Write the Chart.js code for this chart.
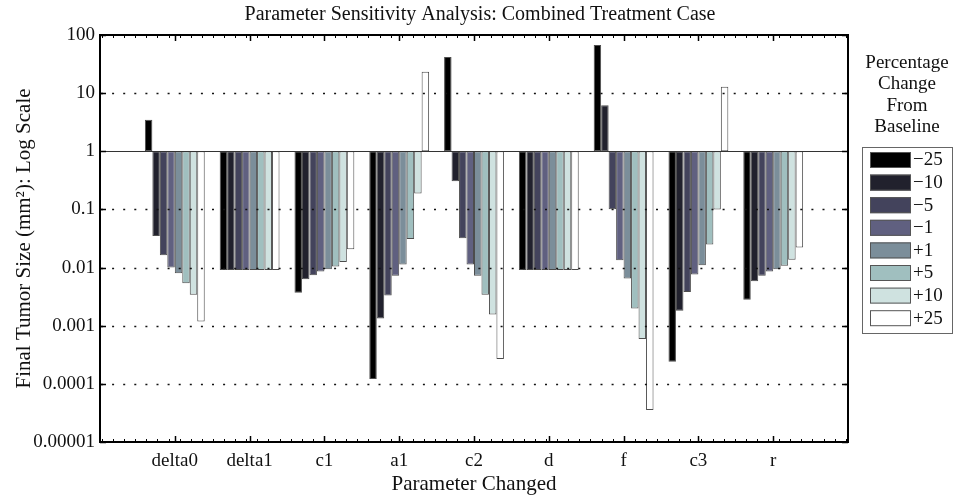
<!DOCTYPE html>
<html>
<head>
<meta charset="utf-8">
<script src="https://cdn.jsdelivr.net/npm/chart.js@4"></script>
<style>
  html, body { margin: 0; padding: 0; background: #fff; }
  #wrap { width: 955px; height: 497px; }
</style>
</head>
<body>
<div id="wrap"><canvas id="chart" width="955" height="497"></canvas></div>
<script>
// Parameters on the x axis (sit at x = 1..9, axis runs 0..10)
const parameters = ['delta0', 'delta1', 'c1', 'a1', 'c2', 'd', 'f', 'c3', 'r'];

// Final tumor size for each percentage change, one value per parameter
const minus25 = [3.5, 0.0091, 0.0037, 0.000121, 42, 0.0091, 67, 0.00024, 0.0028];
const minus10 = [0.035, 0.0091, 0.0063, 0.00133, 0.305, 0.0091, 6.2, 0.0018, 0.0058];
const minus5 = [0.0163, 0.0091, 0.0074, 0.0033, 0.032, 0.0091, 0.101, 0.0038, 0.0072];
const minus1 = [0.0100, 0.0091, 0.0086, 0.0072, 0.0113, 0.0091, 0.0134, 0.0076, 0.0086];
const plus1 = [0.0080, 0.0091, 0.0094, 0.0113, 0.0072, 0.0091, 0.0065, 0.011, 0.0094];
const plus5 = [0.0054, 0.0091, 0.0104, 0.031, 0.0034, 0.0091, 0.00198, 0.025, 0.0107];
const plus10 = [0.0034, 0.0091, 0.0125, 0.187, 0.00156, 0.0091, 0.00059, 0.10, 0.0136];
const plus25 = [0.00118, 0.0091, 0.0207, 23.4, 0.000267, 0.0091, 0.0000355, 12.9, 0.0221];

const seriesLabels = ['\u221225', '\u221210', '\u22125', '\u22121', '+1', '+5', '+10', '+25'];
const seriesValues = [minus25, minus10, minus5, minus1, plus1, plus5, plus10, plus25];
const seriesColors = ['#000000', '#21212d', '#43435c', '#606080', '#7b8e9a', '#a0bfbf', '#cfe2e0', '#ffffff'];

// bars grow from the baseline size of 1
const baseline = 1;

const yTicks = [100, 10, 1, 0.1, 0.01, 0.001, 0.0001, 0.00001];
const yTickLabels = ['100', '10', '1', '0.1', '0.01', '0.001', '0.0001', '0.00001'];

const chartTitle = 'Parameter Sensitivity Analysis: Combined Treatment Case';
const legendTitle = ['Percentage', 'Change', 'From', 'Baseline'];

const serif = '"Liberation Serif", "DejaVu Serif", serif';

const datasets = seriesValues.map((vals, i) => ({
  label: seriesLabels[i],
  data: vals.map((v, j) => ({ x: j + 1, y: [baseline, v] })),
  backgroundColor: seriesColors[i],
  borderColor: '#4d4d4d',
  borderWidth: 1,
  borderSkipped: false,
  categoryPercentage: 0.8,
  barPercentage: 1.0
}));

// MATLAB-ish frame: dotted grid on top, inward ticks, box, legend, title
const framePlugin = {
  id: 'frame',
  afterDatasetsDraw(chart) {
    const ctx = chart.ctx;
    const area = chart.chartArea;
    const xs = chart.scales.x;
    const ys = chart.scales.y;

    ctx.save();
    // dotted decade grid
    ctx.strokeStyle = '#111';
    ctx.lineWidth = 1.6;
    ctx.setLineDash([2, 9.1]);
    ctx.lineDashOffset = -1;
    yTicks.forEach(v => {
      if (v === 100 || v === 0.00001 || v === baseline) return;
      const y = Math.round(ys.getPixelForValue(v)) + 0.5;
      ctx.beginPath();
      ctx.moveTo(area.left, y);
      ctx.lineTo(area.right, y);
      ctx.stroke();
    });
    ctx.setLineDash([]);

    // solid baseline at 1
    const yb = Math.round(ys.getPixelForValue(baseline)) + 0.5;
    ctx.strokeStyle = '#333';
    ctx.lineWidth = 1;
    ctx.beginPath();
    ctx.moveTo(area.left, yb);
    ctx.lineTo(area.right, yb);
    ctx.stroke();

    // minor ticks on top/bottom, same rhythm as the dots
    ctx.strokeStyle = '#000';
    ctx.lineWidth = 1;
    for (let x = area.left + 2; x < area.right; x += 11.1) {
      const px = Math.round(x) + 0.5;
      ctx.beginPath();
      ctx.moveTo(px, area.top); ctx.lineTo(px, area.top + 3);
      ctx.moveTo(px, area.bottom); ctx.lineTo(px, area.bottom - 3);
      ctx.stroke();
    }
    // major x ticks
    ctx.lineWidth = 1.5;
    parameters.forEach((p, i) => {
      const px = Math.round(xs.getPixelForValue(i + 1)) + 0.5;
      ctx.beginPath();
      ctx.moveTo(px, area.top); ctx.lineTo(px, area.top + 6);
      ctx.moveTo(px, area.bottom); ctx.lineTo(px, area.bottom - 6);
      ctx.stroke();
    });
    // major y ticks
    yTicks.forEach(v => {
      const py = Math.round(ys.getPixelForValue(v)) + 0.5;
      ctx.beginPath();
      ctx.moveTo(area.left, py); ctx.lineTo(area.left + 6, py);
      ctx.moveTo(area.right, py); ctx.lineTo(area.right - 6, py);
      ctx.stroke();
    });

    // box
    ctx.lineWidth = 2;
    ctx.strokeRect(area.left, area.top, area.right - area.left, area.bottom - area.top);
    ctx.restore();
  },
  afterDraw(chart) {
    const ctx = chart.ctx;
    ctx.save();
    ctx.fillStyle = '#111';
    ctx.textAlign = 'center';
    ctx.textBaseline = 'middle';

    // title, centred on the page like the original
    ctx.font = '20px ' + serif;
    ctx.fillText(chartTitle, 480, 15);

    ctx.font = '19px ' + serif;
    legendTitle.forEach((line, i) => {
      ctx.fillText(line, 907, 63 + i * 21.3);
    });

    // legend box
    const bx = 862, by = 147, bw = 90, bh = 186;
    ctx.strokeStyle = '#666';
    ctx.lineWidth = 1;
    ctx.strokeRect(bx + 0.5, by + 0.5, bw, bh);

    chart.data.datasets.forEach((ds, i) => {
      const sy = by + 5 + i * 22.6;
      ctx.fillStyle = ds.backgroundColor;
      ctx.fillRect(870, sy, 41, 16);
      ctx.strokeStyle = '#555';
      ctx.strokeRect(870.5, sy + 0.5, 40, 15);
      ctx.fillStyle = '#111';
      ctx.textAlign = 'left';
      ctx.fillText(ds.label, 913, sy + 8.5);
    });
    ctx.restore();
  }
};

new Chart(document.getElementById('chart'), {
  type: 'bar',
  data: { datasets: datasets },
  options: {
    responsive: false,
    animation: false,
    layout: { padding: { left: 0, right: 107, top: 35, bottom: 0 } },
    plugins: {
      legend: { display: false },
      tooltip: { enabled: false },
      title: { display: false }
    },
    scales: {
      x: {
        type: 'linear',
        min: 0,
        max: 10,
        offset: false,
        grid: { display: false, drawTicks: false },
        border: { display: false },
        afterBuildTicks: (scale) => {
          scale.ticks = parameters.map((p, i) => ({ value: i + 1 }));
        },
        ticks: {
          autoSkip: false,
          maxRotation: 0,
          padding: 8,
          color: '#111',
          font: { family: serif, size: 19 },
          callback: (value) => parameters[value - 1] || ''
        },
        title: {
          display: true,
          text: 'Parameter Changed',
          color: '#111',
          font: { family: serif, size: 21 },
          padding: { top: 0, bottom: 0 }
        },
        afterFit: (scale) => { scale.height = 55; }
      },
      y: {
        type: 'logarithmic',
        min: 0.00001,
        max: 100,
        grid: { display: false, drawTicks: false },
        border: { display: false },
        afterBuildTicks: (scale) => {
          scale.ticks = yTicks.map(v => ({ value: v }));
        },
        ticks: {
          padding: 5,
          color: '#111',
          font: { family: serif, size: 19 },
          callback: (value, index) => yTickLabels[index]
        },
        title: {
          display: true,
          text: 'Final Tumor Size (mm\u00b2): Log Scale',
          color: '#111',
          font: { family: serif, size: 21 },
          padding: { top: 12, bottom: 0 }
        },
        afterFit: (scale) => { scale.width = 100; }
      }
    }
  },
  plugins: [framePlugin]
});
</script>
</body>
</html>
